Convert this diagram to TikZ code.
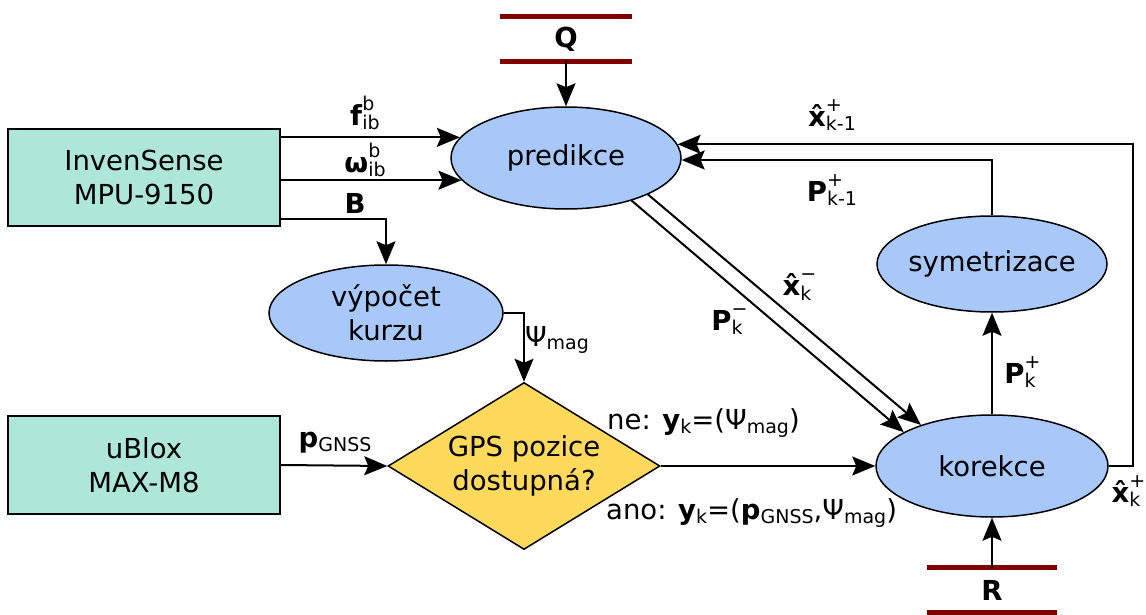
\documentclass[tikz,border=0pt]{standalone}
\usepackage{fontspec}
\setmainfont{DejaVu Sans}
\usetikzlibrary{shapes.geometric,arrows.meta}
\definecolor{ellfill}{HTML}{A9C8FA}
\definecolor{boxfill}{HTML}{AEE6D9}
\definecolor{diafill}{HTML}{FFD95C}
\definecolor{barred}{HTML}{800000}
\newcommand\subf{\fontsize{19}{19}\selectfont\mdseries}
\newcommand\sbb[1]{\raisebox{-0.12em}{\subf #1}}
\newcommand\sbsp[2]{\rlap{\raisebox{0.55em}{\subf #2}}\raisebox{-0.15em}{\subf #1}}
\begin{document}
\begin{tikzpicture}[x=1pt,y=-1pt,
  font=\fontsize{27.5}{34}\selectfont,
  ell/.style={ellipse, draw, fill=ellfill, line width=1.5pt, inner sep=0pt, align=center},
  box/.style={rectangle, draw, fill=boxfill, line width=1.5pt, minimum width=272, minimum height=97, align=center, inner sep=0pt},
  arr/.style={-{Stealth[length=23pt,width=19pt,inset=4pt]}, line width=2pt},
  bar/.style={draw=barred, line width=5pt},
  barnode/.style={minimum width=131, minimum height=44, inner sep=0pt, font=\fontsize{27.5}{34}\selectfont\bfseries},
  lbl/.style={inner sep=1pt}]
\useasboundingbox (0,0) rectangle (1146,615);

\node[box] (inv) at (144,177.5) {InvenSense\\MPU-9150};
\node[box, minimum height=98] (ubx) at (144,465) {uBlox\\MAX-M8};
\node[ell, minimum width=230, minimum height=102] (pred) at (566,158) {predikce};
\node[ell, minimum width=234, minimum height=96] (vyp) at (386,313) {výpočet\\kurzu};
\node[ell, minimum width=230, minimum height=96, inner sep=-3pt] (sym) at (992,264) {symetrizace};
\node[ell, minimum width=232, minimum height=102] (kor) at (992,466) {korekce};
\node[diamond, draw, fill=diafill, line width=1.5pt, aspect=1.63, minimum width=272, minimum height=167, inner sep=0pt, align=center] (dia) at (524,466) {GPS pozice\\dostupná?};

\node[barnode] (Q) at (566,39) {Q};
\draw[bar] (Q.north west) -- (Q.north east);
\draw[bar] (Q.south west) -- (Q.south east);
\node[barnode, minimum width=130] (R) at (992,590) {R};
\draw[bar] (R.north west) -- (R.north east);
\draw[bar] (R.south west) -- (R.south east);

\draw[arr] (Q.south) -- (pred.north);
\draw[arr] (R.north) -- (kor.south);
\draw[arr] (inv.east |- pred.169) -- (pred.169);
\draw[arr] (inv.east |- pred.192.6) -- (pred.192.6);
\draw[arr] ([yshift=8pt]inv.south east) -| (vyp.north);
\draw[arr] (vyp.east) -| (dia.north);
\draw[arr] (ubx.east) -- (dia.west);
\draw[arr] (dia.east) -- (kor.west);
\draw[arr] (kor.north) -- (sym.south);
\draw[arr] (sym.north) |- (pred.-1.5);
\draw[arr] (kor.east) -- ++(24,0) |- (pred.7.2);
\draw[arr] (pred.-33.3) -- (kor.159.2);
\draw[arr] (pred.-24.1) -- (kor.150.5);

\node[lbl] at (365,113) {\textbf{f}\sbsp{ib}{b}};
\node[lbl] at (365,160) {\textbf{ω}\sbsp{ib}{b}};
\node[lbl] at (355,203) {\textbf{B}};
\node[lbl] at (557,340) {Ψ\sbb{mag}};
\node[lbl] at (335,443) {\textbf{p}\sbb{GNSS}};
\node[lbl, anchor=west] at (606,423) {ne: \textbf{y}\sbb{k}=(Ψ\sbb{mag})};
\node[lbl, anchor=west] at (605,513) {ano: \textbf{y}\sbb{k}=(\textbf{p}\sbb{GNSS},Ψ\sbb{mag})};
\node[lbl] at (727,322) {\textbf{P}\sbsp{k}{−}};
\node[lbl] at (797,287) {\textbf{\^{x}}\sbsp{k}{−}};
\node[lbl] at (832,115) {\textbf{\^{x}}\sbsp{k-1}{+}};
\node[lbl] at (832,190) {\textbf{P}\sbsp{k-1}{+}};
\node[lbl] at (1020,372) {\textbf{P}\sbsp{k}{+}};
\node[lbl] at (1126,491) {\textbf{\^{x}}\sbsp{k}{+}};
\end{tikzpicture}
\end{document}
